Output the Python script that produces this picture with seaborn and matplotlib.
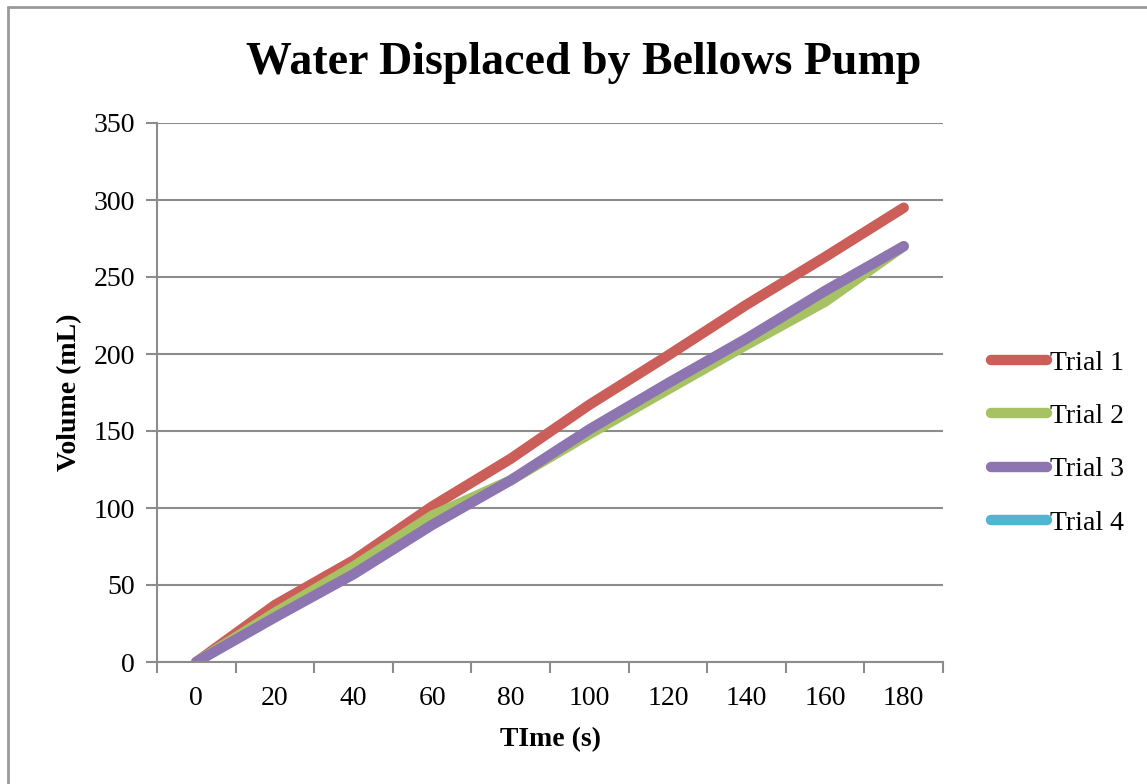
import matplotlib
matplotlib.use("Agg")
import matplotlib.pyplot as plt
from matplotlib.lines import Line2D
import numpy as np
import pandas as pd
import seaborn as sns

# Elapsed time (s) and volume displaced (mL) for each trial
time_s = [0, 20, 40, 60, 80, 100, 120, 140, 160, 180]
trial_1 = [0, 37, 66, 101, 132, 167, 199, 232, 263, 295]
trial_2 = [0, 32, 62, 95, 118, 148, 177, 206, 234, 270]
trial_3 = [0, 29, 57, 89, 118, 151, 181, 210, 241, 270]
trial_4 = [np.nan] * 10  # no readings recorded

series_names = ["Trial 1", "Trial 2", "Trial 3", "Trial 4"]
series_values = [trial_1, trial_2, trial_3, trial_4]
colors = ["#CC5E59", "#A6C263", "#8D75B1", "#50B5D0"]

sns.set_theme(style="white")
plt.rcParams["font.family"] = ["Liberation Serif", "DejaVu Serif"]
plt.rcParams["text.color"] = "black"
plt.rcParams["axes.labelcolor"] = "black"

fig = plt.figure(figsize=(11.47, 7.84), dpi=100)
W, H = 1147, 784
ax = fig.add_axes([157 / W, 1 - 662 / H, (943 - 157) / W, (662 - 123) / H])

grid_color = "#8C8C8C"

# categorical positions for the time values
positions = np.arange(len(time_s))
rows = []
for name, vals in zip(series_names, series_values):
    for p, v in zip(positions, vals):
        rows.append({"pos": p, "volume": v, "trial": name})
df = pd.DataFrame(rows)

for name, color in zip(series_names, colors):
    sub = df[df["trial"] == name].dropna()
    if len(sub):
        sns.lineplot(data=sub, x="pos", y="volume", color=color, lw=7.5,
                     solid_capstyle="round", solid_joinstyle="round",
                     ax=ax, legend=False)

ax.set_xlim(-0.5, len(time_s) - 0.5)
ax.set_ylim(0, 350)
ax.set_yticks(range(0, 351, 50))
ax.yaxis.grid(True, color=grid_color, lw=1.5)
ax.set_axisbelow(True)

# tick labels at category centres, tick marks on the category boundaries
ax.set_xticks(positions)
ax.set_xticklabels([str(t) for t in time_s])
ax.set_xticks(np.arange(-0.5, len(time_s), 1.0), minor=True)
ax.tick_params(axis="x", which="major", length=0, pad=17, labelsize=20,
               labelcolor="black")
ax.tick_params(axis="x", which="minor", length=8, width=1.5, color=grid_color,
               direction="out", bottom=True)
ax.tick_params(axis="y", which="major", length=8, width=1.5, color=grid_color,
               direction="out", left=True, pad=8, labelsize=20,
               labelcolor="black")

for side in ["top", "right"]:
    ax.spines[side].set_visible(False)
for side in ["left", "bottom"]:
    ax.spines[side].set_visible(True)
    ax.spines[side].set_color(grid_color)
    ax.spines[side].set_linewidth(1.5)

ax.set_xlabel("TIme (s)", fontsize=20, fontweight="bold", labelpad=12)
ax.set_ylabel("Volume (mL)", fontsize=20, fontweight="bold", labelpad=8)

fig.text(584 / W, 1 - 63 / H, "Water Displaced by Bellows Pump",
         ha="center", va="center", fontsize=33, fontweight="bold")

handles = [Line2D([0], [0], color=c, lw=7.5, solid_capstyle="round")
           for c in colors]
fig.legend(handles, series_names, loc="center left",
           bbox_to_anchor=(991 / W, 1 - 443 / H), frameon=False,
           fontsize=20, handlelength=2.0, handletextpad=0.12,
           labelspacing=1.0, borderaxespad=0, borderpad=0)

# outer chart border
fig.add_artist(plt.Line2D([8 / W, 8 / W], [0, 1 - 7 / H],
                          transform=fig.transFigure, color="#9A9A9A", lw=2))
fig.add_artist(plt.Line2D([8 / W, 1], [1 - 7 / H, 1 - 7 / H],
                          transform=fig.transFigure, color="#9A9A9A", lw=2))

fig.savefig("out.png", dpi=100, facecolor="white")
